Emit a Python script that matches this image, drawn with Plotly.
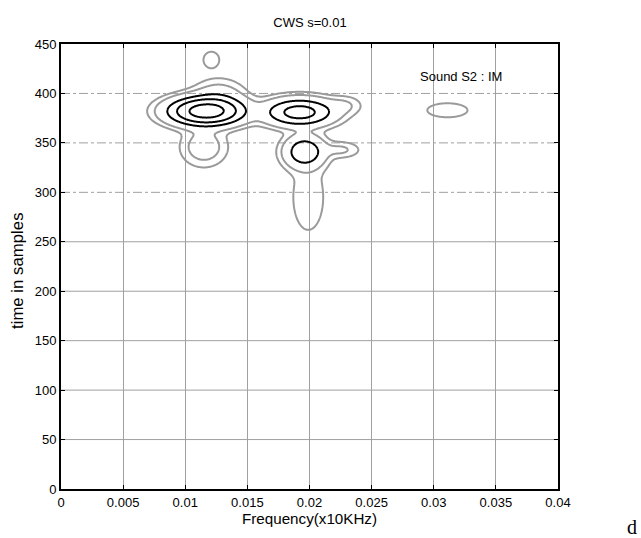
import numpy as np
import plotly.graph_objects as go

# Blob parameters (centre x, centre y, spread x, spread y, amplitude)
blob_x = [0.01167, 0.0115, 0.0192, 0.0196, 0.0199, 0.0121, 0.0311, 0.0228, 0.0225, 0.0127]
blob_y = [382, 346, 381, 341, 295, 434, 383, 388, 343, 395]
blob_sx = [0.0023, 0.0015, 0.0022, 0.0013, 0.00144, 0.00066, 0.0016, 0.0012, 0.0013, 0.0017]
blob_sy = [11, 16, 11, 13, 39.5, 8.5, 7, 8, 7, 15]
blob_amp = [1.0, 0.28, 0.7, 0.55, 0.17, 0.19, 0.2, 0.2, 0.22, 0.3]

gray_levels = [0.12, 0.20]
black_levels = [0.40, 0.60, 0.85]

x_ticks = [0, 0.005, 0.01, 0.015, 0.02, 0.025, 0.03, 0.035, 0.04]
x_tick_text = ["0", "0.005", "0.01", "0.015", "0.02", "0.025", "0.03", "0.035", "0.04"]
y_ticks = [0, 50, 100, 150, 200, 250, 300, 350, 400, 450]
y_grid = [50, 100, 150, 200, 250, 300, 350, 400]
y_grid_dash = ["solid", "solid", "solid", "solid", "solid", "dashdot", "dashdot", "dashdot"]

xs = np.linspace(0, 0.04, 500)
ys = np.linspace(0, 450, 901)
X, Y = np.meshgrid(xs, ys)
S = np.zeros_like(X)
for bx, by, sx, sy, a in zip(blob_x, blob_y, blob_sx, blob_sy, blob_amp):
    g = a * np.exp(-((X - bx) ** 2) / (2 * sx ** 2) - ((Y - by) ** 2) / (2 * sy ** 2))
    S += g ** 2
Z = np.sqrt(S)

fig = go.Figure()
for lev in gray_levels:
    fig.add_trace(go.Contour(x=xs, y=ys, z=Z, showscale=False,
                             contours=dict(start=lev, end=lev, size=1, coloring="none"),
                             line=dict(color="#9a9a9a", width=2, smoothing=1), hoverinfo="skip"))
for lev in black_levels:
    fig.add_trace(go.Contour(x=xs, y=ys, z=Z, showscale=False,
                             contours=dict(start=lev, end=lev, size=1, coloring="none"),
                             line=dict(color="#000000", width=2, smoothing=1), hoverinfo="skip"))

axis_common = dict(showline=True, linecolor="black", linewidth=2, mirror="ticks",
                   ticks="inside", ticklen=4, tickcolor="black", zeroline=False,
                   automargin=False,
                   tickfont=dict(family="Liberation Sans, Arial", size=13, color="black"))

W, H = 641, 538
L, R, T, B = 61, 83, 44, 49
pw, ph = W - L - R, H - T - B

shapes = [dict(type="line", xref="paper", yref="y", x0=0, x1=1, y0=gy, y1=gy, layer="below",
               line=dict(color="#a0a0a0", width=1, dash=gd))
          for gy, gd in zip(y_grid, y_grid_dash)]

fig.update_layout(
    width=W, height=H,
    margin=dict(l=L, r=R, t=T, b=B),
    paper_bgcolor="white", plot_bgcolor="white",
    showlegend=False,
    font=dict(family="Liberation Sans, Arial", size=13, color="black"),
    title=dict(text="CWS s=0.01", x=310 / W, xanchor="center", y=1 - 22 / H,
               yanchor="middle", font=dict(size=13)),
    xaxis=dict(range=[0, 0.04], tickvals=x_ticks, ticktext=x_tick_text,
               showgrid=True, gridcolor="#a0a0a0", gridwidth=1, griddash="solid",
               title=dict(text="Frequency(x10KHz)", standoff=4, font=dict(size=15.2)),
               **axis_common),
    yaxis=dict(range=[0, 450], tickvals=y_ticks, showgrid=False, **axis_common),
    shapes=shapes,
    annotations=[
        dict(text="Sound S2 : IM", x=0.0322, y=417, xref="x", yref="y", showarrow=False,
             font=dict(size=13)),
        dict(text="time in samples", textangle=-90, x=(17 - L) / pw, y=(T + ph - 271) / ph,
             xref="paper", yref="paper", showarrow=False, font=dict(size=16.8),
             xanchor="center", yanchor="middle"),
        dict(text="d", x=(632 - L) / pw, y=(T + ph - 527) / ph, xref="paper", yref="paper",
             showarrow=False, font=dict(family="Liberation Serif", size=20),
             xanchor="center", yanchor="middle"),
    ],
)

fig.write_html("out.html", config={"displayModeBar": False},
               post_script="document.body.style.margin='0';document.body.style.overflow='hidden';")
